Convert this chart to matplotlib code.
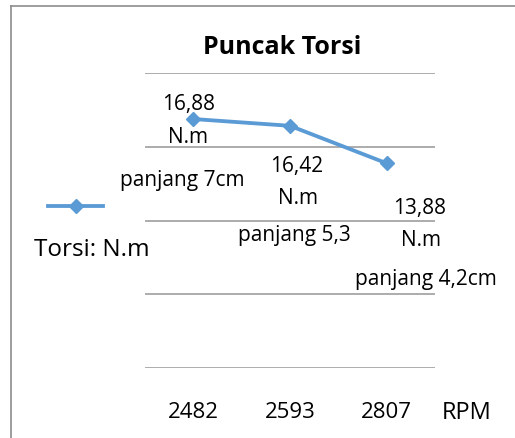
import matplotlib.pyplot as plt
from matplotlib.lines import Line2D

rpm = ['2482', '2593', '2807']
torsi = [16.88, 16.42, 13.88]
nilai_label = ['16,88', '16,42', '13,88']
panjang_label = ['panjang 7cm', 'panjang 5,3', 'panjang 4,2cm']

BIRU = '#5B9BD5'
ABU = '#A6A6A6'

plt.rcParams['font.family'] = ['Open Sans', 'DejaVu Sans']

fig = plt.figure(figsize=(5.15, 4.39), dpi=100)
ax = fig.add_axes([145/515, 1-369/439, 290/515, 295/439])

x = list(range(len(rpm)))
ax.plot(x, torsi, color=BIRU, lw=2.75, marker='D', ms=7.5, mec=BIRU, mfc=BIRU)

ax.set_xlim(-0.5, 2.5)
ax.set_ylim(0, 20)
ax.set_yticks([0, 5, 10, 15, 20])
ax.set_yticklabels([])
ax.tick_params(axis='y', length=0)
ax.grid(axis='y', color=ABU, lw=1.3)
ax.set_axisbelow(True)
for s in ax.spines.values():
    s.set_visible(False)

ax.set_xticks(x)
ax.set_xticklabels(rpm, fontsize=16)
ax.tick_params(axis='x', length=0, pad=24)

# label data (offset dalam pixel)
off_nilai = [(-5, 16), (7, -40), (33, -44)]
off_nm = [(-5, -17), (8, -72), (34, -76)]
off_pj = [(-11, -60), (4, -109), (39, -115)]
for i in x:
    ax.annotate(nilai_label[i], (i, torsi[i]), xytext=off_nilai[i], textcoords='offset pixels',
                ha='center', va='center', fontsize=15)
    ax.annotate('N.m', (i, torsi[i]), xytext=off_nm[i], textcoords='offset pixels',
                ha='center', va='center', fontsize=15)
    ax.annotate(panjang_label[i], (i, torsi[i]), xytext=off_pj[i], textcoords='offset pixels',
                ha='center', va='center', fontsize=15)

fig.text(282/515, 1-47/439, 'Puncak Torsi', ha='center', va='center', fontsize=18, fontweight='bold')
fig.text(467/515, 1-413/439, 'RPM', ha='center', va='center', fontsize=17)

# legenda
fig.add_artist(Line2D([48/515, 103/515], [1-207/439, 1-207/439], transform=fig.transFigure,
                      color=BIRU, lw=2.75))
fig.add_artist(Line2D([75.5/515], [1-207/439], transform=fig.transFigure,
                      color=BIRU, marker='D', ms=7.5, ls='none'))
fig.text(92/515, 1-250/439, 'Torsi: N.m', ha='center', va='center', fontsize=17.5)

# bingkai chart
fig.add_artist(Line2D([11/515, 11/515], [0, 1-7/439], transform=fig.transFigure, color='#8C8C8C', lw=1.2))
fig.add_artist(Line2D([11/515, 1], [1-7/439, 1-7/439], transform=fig.transFigure, color='#8C8C8C', lw=1.2))

fig.savefig('out.png', dpi=100)
